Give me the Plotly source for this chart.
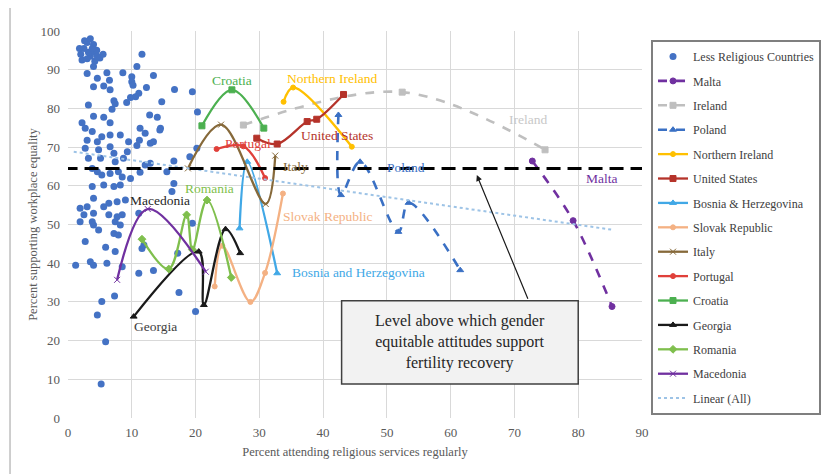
import plotly.graph_objects as go

# ---------------- data ----------------
less_x = [2.0, 2.5, 3.0, 3.5, 4.0, 4.5, 5.0, 2.2, 3.0, 4.0, 2.6, 3.5, 4.2, 5.5, 3.2, 4.6, 1.8, 3.8,
          11.6, 4.0, 3.0, 6.1, 8.6, 10.8, 10.0, 13.4, 4.6, 6.5, 4.0, 5.6, 6.6, 10.0, 10.2, 12.3, 16.7, 19.5,
          11.1, 10.6, 9.8, 7.2, 7.4, 9.2, 14.7, 3.2, 6.9, 20.3, 4.0, 5.6, 12.8, 14.0, 2.2, 6.6, 2.7, 11.3, 14.5,
          3.8, 5.3, 6.6, 8.2, 12.1, 14.4, 3.0, 4.6, 9.5, 11.2, 12.9, 13.4, 2.7, 4.8, 6.6, 7.2, 9.3, 10.8, 20.2,
          19.1, 3.2, 5.1, 7.4, 8.7, 12.1, 12.9, 16.6, 3.8, 4.6, 5.3, 6.6, 7.9, 8.5, 9.8, 11.3, 15.5, 3.8, 5.6,
          7.2, 8.2, 16.6, 16.3, 4.0, 6.4, 7.7, 9.0, 1.9, 3.0, 5.6, 2.5, 4.0, 6.4, 7.7, 8.5, 11.1, 1.9, 3.8, 7.4,
          4.0, 4.8, 7.2, 7.9, 8.2, 19.5, 2.7, 5.9, 7.4, 11.6, 11.9, 1.2, 3.5, 4.0, 6.1, 8.5, 11.1, 13.4, 17.2,
          5.3, 7.3, 17.4, 4.6, 20.0, 5.9, 5.2]
less_y = [94, 95.5, 97, 93.5, 94.5, 95, 93, 92.5, 92.8, 96.5, 97.5, 98, 92.2, 94, 94.5, 93.5, 95.5, 95.5,
          94, 90.8, 89, 89.2, 89.2, 90.8, 88.2, 88.5, 87.8, 87.3, 85.6, 85.8, 84.8, 86.9, 86.0, 85.4, 84.9, 84.3,
          83.9, 83, 82.8, 82, 81.2, 81.5, 81.7, 80.9, 79.8, 79.1, 78, 77.7, 78.3, 77.7, 76.3, 76.3, 74.9, 74.9, 74.9,
          74, 72.7, 73.1, 73.1, 73.6, 74.4, 71.8, 71.4, 71.4, 71.8, 71, 71.4, 69.7, 69.3, 70.1, 68.4, 68.8, 70.4, 69.7,
          67.5, 67.1, 67.1, 66.2, 67.1, 65.4, 65.8, 66.4, 64.5, 63.6, 62.8, 63.2, 63.6, 62.3, 61.9, 63.5, 63.6, 59.8, 60.2,
          59.8, 60.2, 60.6, 58.5, 56.8, 55.5, 55.9, 56.3, 54.2, 54.6, 54.6, 52.5, 52.9, 52.5, 52, 52.5, 52.9, 50.7, 50.7, 50.7,
          49.9, 48.6, 47.7, 47.3, 49.9, 50.3, 45.6, 44.1, 43, 43.8, 44.7, 39.5, 40.4, 39.5, 40, 39.1, 37.4, 38.1, 42.6,
          30.1, 31.5, 32.4, 26.6, 27.5, 19.7, 8.8]

malta_x = [72.8, 79.2, 85.3]
malta_y = [66.4, 51.0, 28.8]
ireland_x = [27.5, 52.4, 74.8]
ireland_y = [75.7, 84.2, 69.3]
poland_x = [42.4, 42.8, 45.8, 51.8, 53.4, 61.5]
poland_y = [78.3, 57.6, 66.2, 48.1, 55.6, 38.2]
nireland_x = [33.8, 35.3, 44.5]
nireland_y = [81.7, 85.4, 70.1]
us_x = [29.6, 32.8, 37.5, 39.0, 43.2]
us_y = [72.3, 70.8, 76.6, 77.2, 83.6]
bosnia_x = [26.9, 28.1, 32.8]
bosnia_y = [49.0, 66.2, 37.4]
slovak_x = [23.0, 24.2, 28.6, 30.9, 33.7]
slovak_y = [34.0, 44.5, 30.0, 37.5, 58.0]
italy_x = [18.8, 24.0, 31.0, 32.5]
italy_y = [64.5, 75.8, 55.3, 67.8]
portugal_x = [23.3, 27.5, 30.9]
portugal_y = [69.5, 70.2, 62.0]
croatia_x = [21.0, 25.7, 30.7]
croatia_y = [75.5, 84.8, 74.9]
georgia_x = [10.3, 20.5, 21.3, 24.7, 27.0]
georgia_y = [26.2, 43.0, 29.2, 48.8, 42.6]
romania_x = [11.6, 15.8, 18.6, 19.5, 21.8, 25.6]
romania_y = [46.2, 38.5, 52.5, 43.5, 56.3, 36.3]
macedonia_x = [7.7, 12.5, 21.6]
macedonia_y = [35.7, 54.0, 37.8]
linear_x = [0.9, 85.5]
linear_y = [68.8, 48.6]

threshold = 64.5

x_ticks = [0, 10, 20, 30, 40, 50, 60, 70, 80, 90]
y_ticks = [0, 10, 20, 30, 40, 50, 60, 70, 80, 90, 100]

# ---------------- figure ----------------
SERIF = "Liberation Serif, Times New Roman, serif"
fig = go.Figure()

fig.add_trace(go.Scatter(x=less_x, y=less_y, mode="markers", name="Less Religious Countries",
                         marker=dict(color="#4472C4", size=7), legendgroup="g0"))

series = [
    ("Malta", malta_x, malta_y, "#7030A0", "dash", "circle", 6),
    ("Ireland", ireland_x, ireland_y, "#BFBFBF", "dash", "square", 6),
    ("Poland", poland_x, poland_y, "#3A70C4", "dash", "triangle-up", 6),
    ("Northern Ireland", nireland_x, nireland_y, "#FFC000", "solid", "circle", 5),
    ("United States", us_x, us_y, "#B5332A", "solid", "square", 6),
    ("Bosnia & Herzegovina", bosnia_x, bosnia_y, "#41A8E6", "solid", "triangle-up", 6),
    ("Slovak Republic", slovak_x, slovak_y, "#F4B183", "solid", "circle", 5),
    ("Italy", italy_x, italy_y, "#86693A", "solid", "x-thin", 6),
    ("Portugal", portugal_x, portugal_y, "#E0403A", "solid", "circle", 5),
    ("Croatia", croatia_x, croatia_y, "#4CB050", "solid", "square", 6),
    ("Georgia", georgia_x, georgia_y, "#1A1A1A", "solid", "triangle-up", 6),
    ("Romania", romania_x, romania_y, "#7FBF4D", "solid", "diamond", 6),
    ("Macedonia", macedonia_x, macedonia_y, "#7030A0", "solid", "x-thin", 6),
]
for i, (nm, xs, ys, col, dash, sym, ms) in enumerate(series):
    fig.add_trace(go.Scatter(
        x=xs, y=ys, mode="lines+markers", name=nm, legendgroup=f"g{i+1}",
        line=dict(color=col, width=2.3 if dash == "solid" else 2.6, dash=dash, shape="spline", smoothing=1.0),
        marker=dict(color=col, size=ms, symbol=sym, line=dict(color=col, width=1)),
    ))

fig.add_trace(go.Scatter(x=linear_x, y=linear_y, mode="lines", name="Linear (All)", legendgroup="g99",
                         line=dict(color="#9DC3E6", width=2, dash="dot")))

# threshold dashed line
fig.add_shape(type="line", x0=-0.7, x1=90, y0=threshold, y1=threshold, xref="x", yref="y",
              line=dict(color="black", width=3, dash="14px,7px"))

# explanation box
fig.add_shape(type="rect", x0=42.9, x1=80.0, y0=8.8, y1=30.3, xref="x", yref="y",
              fillcolor="#F2F2F2", line=dict(color="#404040", width=1.5), layer="above")
fig.add_annotation(x=61.45, y=19.6, xref="x", yref="y", showarrow=False,
                   text="Level above which gender<br>equitable attitudes support<br>fertility recovery",
                   font=dict(family=SERIF, size=16, color="#262626"), align="center")
fig.add_annotation(x=64.1, y=62.8, ax=72.2, ay=30.4, xref="x", yref="y", axref="x", ayref="y",
                   text="", showarrow=True, arrowhead=2, arrowsize=1, arrowwidth=1.2, arrowcolor="#1A1A1A")

# series labels
labels = [
    ("Croatia", 25.7, 87.2, "#4CB050"),
    ("Northern Ireland", 41.5, 87.8, "#FFC000"),
    ("United States", 42.2, 73.1, "#B5332A"),
    ("Portugal", 28.2, 71.0, "#E0403A"),
    ("Italy", 35.6, 64.9, "#86693A"),
    ("Poland", 53.0, 64.8, "#3A70C4"),
    ("Ireland", 72.1, 77.2, "#C8C8C8"),
    ("Malta", 83.8, 61.9, "#7030A0"),
    ("Slovak Republic", 40.8, 52.0, "#F4B183"),
    ("Bosnia and Herzegovina", 45.6, 37.6, "#41A8E6"),
    ("Romania", 22.2, 59.4, "#7FBF4D"),
    ("Macedonia", 14.5, 56.2, "#262626"),
    ("Georgia", 13.7, 23.6, "#404040"),
]
for t, lx, ly, c in labels:
    fig.add_annotation(x=lx, y=ly, xref="x", yref="y", text=t, showarrow=False,
                       font=dict(family=SERIF, size=13.5, color=c))

# outer chart border (left edge)
fig.add_shape(type="line", xref="paper", yref="paper", x0=-0.101, x1=-0.101, y0=-0.165, y1=1.06,
              line=dict(color="#BFBFBF", width=1.5))

fig.update_layout(
    width=830, height=474,
    margin=dict(l=60, r=196, t=23, b=64, autoexpand=False),
    paper_bgcolor="white", plot_bgcolor="white",
    font=dict(family=SERIF, color="#595959"),
    showlegend=True,
    legend=dict(x=1.0157, y=0.9767, xanchor="left", yanchor="top",
                bordercolor="#7F7F7F", borderwidth=2, bgcolor="white",
                font=dict(family=SERIF, size=12, color="#404040"),
                tracegroupgap=5.4, itemwidth=30),
    xaxis=dict(range=[0, 90], tickvals=x_ticks, showgrid=True, gridcolor="#D9D9D9", gridwidth=1,
               zeroline=False, showline=False, ticks="", automargin=False, ticklabelstandoff=5,
               tickfont=dict(family=SERIF, size=13, color="#595959"),
               title=dict(text="Percent attending religious services regularly",
                          font=dict(family=SERIF, size=12.5, color="#595959"), standoff=8)),
    yaxis=dict(range=[0, 100], tickvals=y_ticks, showgrid=True, gridcolor="#D9D9D9", gridwidth=1,
               zeroline=False, showline=False, ticks="", automargin=False, ticklabelstandoff=7,
               tickfont=dict(family=SERIF, size=13, color="#595959"),
               title=dict(text="Percent supporting workplace equality",
                          font=dict(family=SERIF, size=12.5, color="#595959"), standoff=0)),
)

fig.write_html("out.html")
